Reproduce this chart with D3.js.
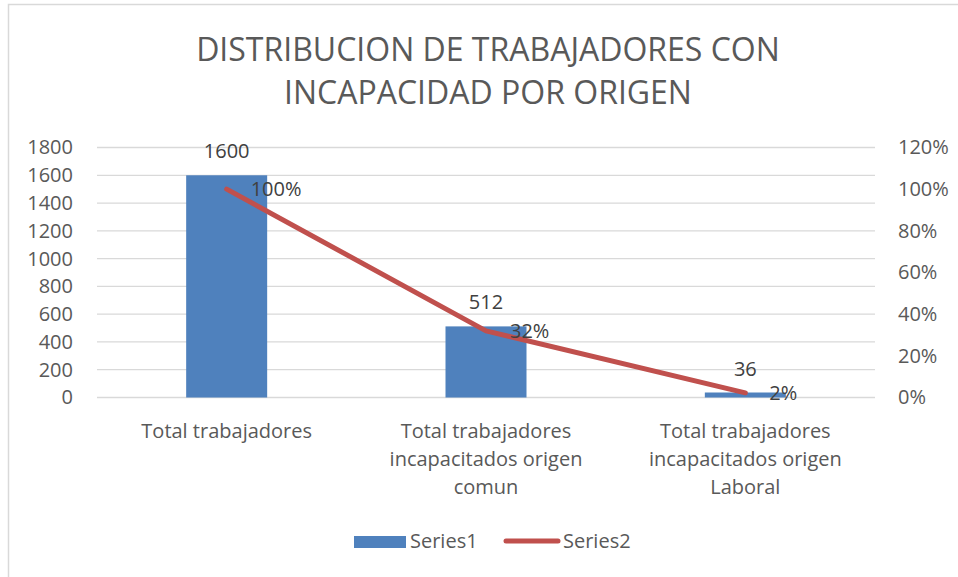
<!DOCTYPE html>
<html>
<head>
<meta charset="utf-8">
<script src="https://cdn.jsdelivr.net/npm/d3@7"></script>
<style>
  body { margin: 0; background: #fff; }
  svg { display: block; font-family: "Open Sans", "Noto Sans", sans-serif; }
</style>
</head>
<body>
<svg width="958" height="577"></svg>
<script>
const categories = [
  ["Total trabajadores"],
  ["Total trabajadores", "incapacitados origen", "comun"],
  ["Total trabajadores", "incapacitados origen", "Laboral"]
];
const series1 = [1600, 512, 36];
const series2 = [1.00, 0.32, 0.0225];
const series2Labels = ["100%", "32%", "2%"];
const leftTicks = [0, 200, 400, 600, 800, 1000, 1200, 1400, 1600, 1800];
const rightTicks = [0, 0.2, 0.4, 0.6, 0.8, 1.0, 1.2];
const titleLines = ["DISTRIBUCION DE TRABAJADORES CON", "INCAPACIDAD POR ORIGEN"];

const svg = d3.select("svg");
const blue = "#4F81BD", red = "#C0504D", grey = "#595959";
const fs = 20;

// chart frame
svg.append("rect")
  .attr("x", 8.5).attr("y", 4.5).attr("width", 960).attr("height", 600)
  .attr("fill", "none").attr("stroke", "#d9d9d9").attr("stroke-width", 1.5);

const plotL = 97, plotR = 875, plotT = 147.5, plotB = 397.5;
const idx = d3.range(categories.length);

const x = d3.scaleBand().domain(idx).range([plotL, plotR]).paddingInner(0).paddingOuter(0);
const bw = 81;
const yL = d3.scaleLinear().domain([0, 1800]).range([plotB, plotT]);
const yR = d3.scaleLinear().domain([0, 1.2]).range([plotB, plotT]);

// title
svg.append("g").selectAll("text").data(titleLines).enter().append("text")
  .attr("x", 488).attr("y", (d, i) => 61 + i * 43)
  .attr("text-anchor", "middle")
  .attr("font-size", 32).attr("fill", grey)
  .text(d => d);

// gridlines
svg.append("g").selectAll("line").data(leftTicks).enter().append("line")
  .attr("x1", plotL).attr("x2", plotR)
  .attr("y1", d => yL(d)).attr("y2", d => yL(d))
  .attr("stroke", "#d9d9d9").attr("stroke-width", 1.3);

// left axis
const axL = svg.append("g").attr("transform", `translate(${plotL},0)`)
  .call(d3.axisLeft(yL).tickValues(leftTicks).tickSize(0).tickPadding(24).tickFormat(d3.format("d")));
axL.select(".domain").remove();
axL.selectAll("text").attr("font-size", fs).attr("fill", grey);
axL.attr("font-family", null);

// right axis
const axR = svg.append("g").attr("transform", `translate(${plotR},0)`)
  .call(d3.axisRight(yR).tickValues(rightTicks).tickSize(0).tickPadding(23).tickFormat(d3.format(".0%")));
axR.select(".domain").remove();
axR.selectAll("text").attr("font-size", fs).attr("fill", grey);
axR.attr("font-family", null);

// bars
const cx = i => x(i) + x.bandwidth() / 2;
svg.append("g").selectAll("rect").data(series1).enter().append("rect")
  .attr("x", (d, i) => cx(i) - bw / 2).attr("width", bw)
  .attr("y", d => yL(d)).attr("height", d => plotB - yL(d))
  .attr("fill", blue);

// bar labels
svg.append("g").selectAll("text").data(series1).enter().append("text")
  .attr("x", (d, i) => cx(i)).attr("y", d => yL(d) - 17)
  .attr("text-anchor", "middle").attr("font-size", fs).attr("fill", "#404040")
  .text(d => d);

// line
svg.append("path").datum(series2)
  .attr("d", d3.line().x((d, i) => cx(i)).y(d => yR(d)))
  .attr("fill", "none").attr("stroke", red).attr("stroke-width", 5)
  .attr("stroke-linecap", "round").attr("stroke-linejoin", "round");

// line labels
svg.append("g").selectAll("text").data(series2).enter().append("text")
  .attr("x", (d, i) => cx(i) + 24).attr("y", d => yR(d) + 7)
  .attr("font-size", fs).attr("fill", "#404040")
  .text((d, i) => series2Labels[i]);

// category labels
const cat = svg.append("g").selectAll("text").data(categories).enter().append("text")
  .attr("text-anchor", "middle").attr("font-size", fs).attr("fill", grey);
cat.selectAll("tspan").data((d, i) => d.map(t => ({t, i}))).enter().append("tspan")
  .attr("x", d => cx(d.i)).attr("y", (d, j) => 438 + j * 28)
  .text(d => d.t);

// legend
svg.append("rect").attr("x", 354).attr("y", 536).attr("width", 52).attr("height", 12).attr("fill", blue);
svg.append("text").attr("x", 410).attr("y", 548).attr("font-size", fs).attr("fill", grey).text("Series1");
svg.append("line").attr("x1", 506).attr("x2", 558).attr("y1", 541).attr("y2", 541)
  .attr("stroke", red).attr("stroke-width", 5).attr("stroke-linecap", "round");
svg.append("text").attr("x", 563).attr("y", 548).attr("font-size", fs).attr("fill", grey).text("Series2");
</script>
</body>
</html>
